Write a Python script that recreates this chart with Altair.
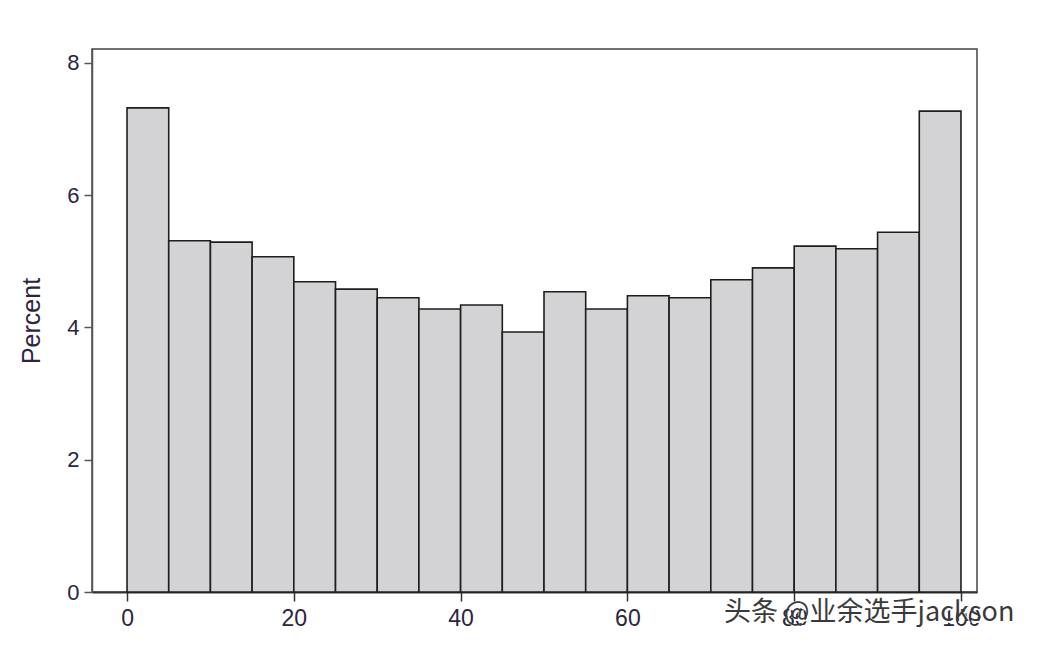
import altair as alt
import pandas as pd

bin_start = [0, 5, 10, 15, 20, 25, 30, 35, 40, 45, 50, 55, 60, 65, 70, 75, 80, 85, 90, 95]
bin_end = [5, 10, 15, 20, 25, 30, 35, 40, 45, 50, 55, 60, 65, 70, 75, 80, 85, 90, 95, 100]
percent = [7.32, 5.31, 5.29, 5.07, 4.69, 4.58, 4.45, 4.28, 4.34, 3.93,
           4.54, 4.28, 4.48, 4.45, 4.72, 4.90, 5.23, 5.19, 5.44, 7.27]
x_ticks = [0, 20, 40, 60, 80, 100]
y_ticks = [0, 2, 4, 6, 8]
watermark = "头条 @业余选手jackson"

df = pd.DataFrame({"start": bin_start, "end": bin_end, "pct": percent})

label_color = "#2b2540"
font = "Liberation Sans"

bars = alt.Chart(df).mark_rect(
    fill="#d3d3d5", stroke="#1e1e1e", strokeWidth=1.6
).encode(
    x=alt.X("start:Q",
            scale=alt.Scale(domain=[-4.2, 101.92], nice=False, zero=False),
            axis=alt.Axis(values=x_ticks, title=None, grid=False,
                          tickSize=9, tickColor="#333", tickWidth=1.5,
                          domainColor="#333", domainWidth=1.8,
                          labelFontSize=23, labelColor=label_color,
                          labelFont=font, labelPadding=6)),
    x2="end:Q",
    y=alt.Y("pct:Q",
            scale=alt.Scale(domain=[0, 8.21], nice=False),
            axis=alt.Axis(values=y_ticks, title="Percent", grid=False,
                          tickSize=8, tickColor="#555", tickWidth=1.5,
                          domainColor="#555", domainWidth=1.5,
                          labelFontSize=22, labelColor=label_color,
                          labelFont=font, labelPadding=5,
                          titleFontSize=25, titleFont=font,
                          titleFontWeight="normal", titleColor=label_color,
                          titlePadding=22)),
    y2=alt.datum(0),
)

wm_df = pd.DataFrame({"t": [watermark]})
wm_shadow = alt.Chart(wm_df).mark_text(
    align="left", baseline="middle", fontSize=27, font="Noto Sans CJK SC",
    color="#ffffff"
).encode(text="t:N", x=alt.value(634), y=alt.value(566))
wm = alt.Chart(wm_df).mark_text(
    align="left", baseline="middle", fontSize=27, font="Noto Sans CJK SC",
    color="#3a3a3a"
).encode(text="t:N", x=alt.value(632), y=alt.value(564))

chart = alt.layer(bars, wm_shadow, wm).properties(
    width=885, height=543,
    autosize=alt.AutoSizeParams(type="none"),
    padding={"left": 84, "top": 41, "right": 53, "bottom": 46},
    background="#ffffff",
).configure_view(
    stroke="#444", strokeWidth=1.5
)

chart.save("out.html", embed_options={"renderer": "svg", "actions": False})
